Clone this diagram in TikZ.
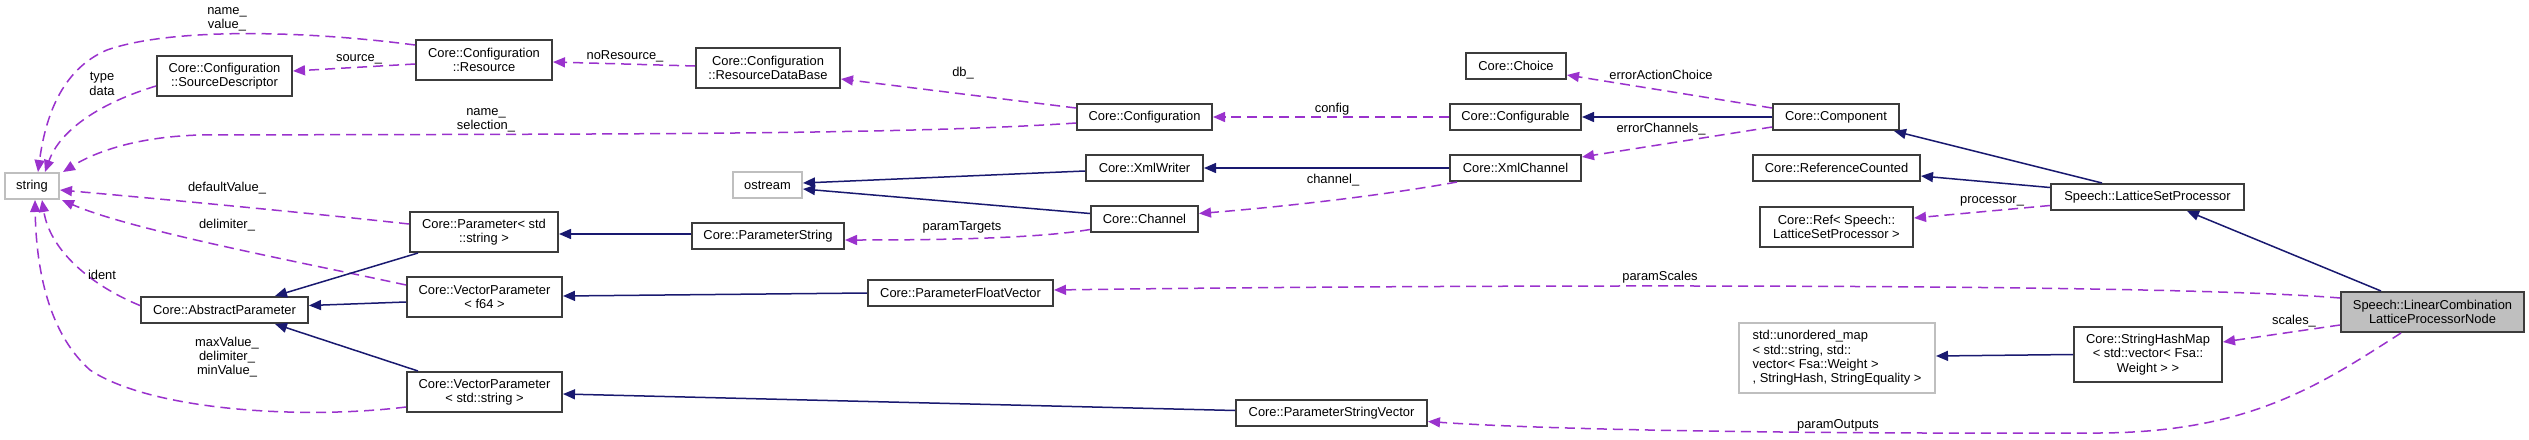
\documentclass[tikz,border=0pt]{standalone}
\usepackage{fontspec}
\setmainfont{Liberation Sans}
\usetikzlibrary{arrows.meta}
\definecolor{edgeblue}{HTML}{191970}
\definecolor{edgepurple}{HTML}{9A32CD}
\definecolor{boxborder}{HTML}{3C3C3C}
\definecolor{grayborder}{HTML}{BFBFBF}
\definecolor{focusfill}{HTML}{BFBFBF}
\begin{document}
\begin{tikzpicture}[x=1pt,y=-1pt,
  txt/.style={font=\fontsize{12.9}{14.3}\selectfont},
  cls/.style={txt, draw=boxborder, line width=2pt, fill=white, inner sep=0pt, align=center},
  ext/.style={cls, draw=grayborder},
  lbl/.style={txt, inner sep=0pt, align=center},
  uses/.style={draw=edgepurple, line width=1.5pt, dash pattern=on 10pt off 6pt, -{Triangle[length=12pt,width=10pt]}},
  inh/.style={draw=edgeblue, line width=1.5pt, -{Triangle[length=12pt,width=10pt]}}
]
\useasboundingbox[fill=white] (0,0) rectangle (2529,439);

% nodes
\node[ext, minimum width=54pt, minimum height=26pt] (string) at (32,186) {string};
\node[cls, minimum width=135pt, minimum height=40pt] (srcdesc) at (224.5,76) {Core::Configuration\\::SourceDescriptor};
\node[cls, minimum width=136pt, minimum height=40pt] (resource) at (484,60) {Core::Configuration\\::Resource};
\node[cls, minimum width=144pt, minimum height=40pt] (resdb) at (768,68) {Core::Configuration\\::ResourceDataBase};
\node[cls, minimum width=135pt, minimum height=26pt] (config) at (1144.5,117) {Core::Configuration};
\node[cls, minimum width=117pt, minimum height=26pt] (xmlwriter) at (1144.5,168) {Core::XmlWriter};
\node[ext, minimum width=69pt, minimum height=26pt] (ostream) at (767.5,185) {ostream};
\node[cls, minimum width=107pt, minimum height=26pt] (channel) at (1144.5,219) {Core::Channel};
\node[cls, minimum width=152pt, minimum height=26pt] (paramstring) at (768,236) {Core::ParameterString};
\node[cls, minimum width=185pt, minimum height=26pt] (floatvec) at (960.5,293) {Core::ParameterFloatVector};
\node[cls, minimum width=191pt, minimum height=26pt] (strvec) at (1331.5,413) {Core::ParameterStringVector};
\node[cls, minimum width=148pt, minimum height=40pt] (param) at (484,232) {Core::Parameter< std\\::string >};
\node[cls, minimum width=155pt, minimum height=40pt] (vecf64) at (484.5,297) {Core::VectorParameter\\< f64 >};
\node[cls, minimum width=167pt, minimum height=26pt] (abstract) at (224.5,310) {Core::AbstractParameter};
\node[cls, minimum width=155pt, minimum height=40pt] (vecstr) at (484.5,392) {Core::VectorParameter\\< std::string >};
\node[cls, minimum width=100pt, minimum height=26pt] (choice) at (1516,66) {Core::Choice};
\node[cls, minimum width=131pt, minimum height=26pt] (configurable) at (1515.5,117) {Core::Configurable};
\node[cls, minimum width=126pt, minimum height=26pt] (component) at (1836,117) {Core::Component};
\node[cls, minimum width=131pt, minimum height=26pt] (xmlchannel) at (1515.5,168) {Core::XmlChannel};
\node[cls, minimum width=167pt, minimum height=26pt] (refcounted) at (1836.5,168) {Core::ReferenceCounted};
\node[cls, minimum width=153pt, minimum height=40pt] (ref) at (1836.5,227) {Core::Ref< Speech::\\LatticeSetProcessor >};
\node[ext, minimum width=196pt, minimum height=70pt, align=left] (unordered) at (1837,358) {std::unordered\_map\\< std::string, std::\\vector< Fsa::Weight >\\, StringHash, StringEquality >};
\node[cls, minimum width=193pt, minimum height=26pt] (lsp) at (2147.5,197) {Speech::LatticeSetProcessor};
\node[cls, fill=focusfill, minimum width=183pt, minimum height=40pt] (lincomb) at (2432.5,312) {Speech::LinearCombination\\LatticeProcessorNode};
\node[cls, minimum width=148pt, minimum height=55pt] (shm) at (2148,354.5) {Core::StringHashMap\\< std::vector< Fsa::\\Weight > >};

% usage edges
\draw[uses] ([yshift=15pt]resource.west) .. controls (300,30) and (170,28) .. (107,50) .. controls (60,70) and (45,120) .. ([xshift=6pt]string.north);
\draw[uses] ([yshift=-10pt]srcdesc.west) .. controls (100,103) and (60,130) .. ([xshift=13pt]string.north);
\draw[uses] ([yshift=-4pt]resource.west) -- ([yshift=5pt]srcdesc.east);
\draw[uses] ([yshift=2pt]resdb.west) -- ([yshift=-2pt]resource.east);
\draw[uses] ([yshift=9pt]config.west) -- ([yshift=-11pt]resdb.east);
\draw[uses] ([yshift=-6pt]config.west) .. controls (900,135) and (600,134) .. (200,135) .. controls (130,137) and (90,155) .. ([xshift=3pt]string.north east);
\draw[uses] (configurable.west) -- (config.east);
\draw[uses] ([yshift=9pt]component.west) -- ([yshift=-9pt]choice.east);
\draw[uses] ([yshift=-10pt]component.west) -- ([yshift=11pt]xmlchannel.east);
\draw[uses] ([xshift=-58.5pt]xmlchannel.south) .. controls (1380,196) and (1280,207) .. ([yshift=5.5pt]channel.east);
\draw[uses] ([yshift=-10.5pt]channel.west) .. controls (1040,238) and (950,240) .. ([yshift=-4pt]paramstring.east);
\draw[uses] ([yshift=8pt]param.west) .. controls (300,212) and (150,198) .. ([yshift=-4pt]string.east);
\draw[uses] ([yshift=12pt]vecf64.west) .. controls (300,262) and (130,230) .. ([xshift=2pt]string.south east);
\draw[uses] ([yshift=4.5pt]abstract.west) .. controls (90,285) and (50,250) .. ([xshift=10pt]string.south);
\draw[uses] ([yshift=-15pt]vecstr.west) .. controls (300,420) and (150,410) .. (90,370) .. controls (45,330) and (36,260) .. ([xshift=3pt]string.south);
\draw[uses] ([yshift=-8.5pt]lsp.west) -- ([yshift=9pt]ref.east);
\draw[uses] ([yshift=14pt]lincomb.west) .. controls (2150,282) and (1400,285) .. ([yshift=3pt]floatvec.east);
\draw[uses] ([yshift=-13pt]lincomb.west) -- ([yshift=12.5pt]shm.east);
\draw[uses] ([xshift=-31.5pt]lincomb.south) .. controls (2320,385) and (2250,432) .. (2100,433) .. controls (1800,434) and (1550,430) .. ([yshift=-8.5pt]strvec.east);

% inheritance edges
\draw[inh] ([xshift=-66pt]param.south) -- ([xshift=50.5pt]abstract.north);
\draw[inh] ([yshift=-5pt]vecf64.west) -- ([yshift=4.5pt]abstract.east);
\draw[inh] ([xshift=-66.5pt]vecstr.north) -- ([xshift=50.5pt]abstract.south);
\draw[inh] ([yshift=2pt]paramstring.west) -- ([yshift=-2pt]param.east);
\draw[inh] (floatvec.west) -- ([yshift=1pt]vecf64.east);
\draw[inh] ([yshift=2.5pt]strvec.west) -- ([yshift=-2pt]vecstr.east);
\draw[inh] ([yshift=-3pt]xmlwriter.west) -- ([yshift=2pt]ostream.east);
\draw[inh] ([yshift=5.5pt]channel.west) -- ([yshift=-4pt]ostream.east);
\draw[inh] (xmlchannel.west) -- (xmlwriter.east);
\draw[inh] (component.west) -- (configurable.east);
\draw[inh] ([xshift=-45.5pt]lsp.north) -- ([xshift=-6pt]component.south east);
\draw[inh] ([yshift=9.5pt]lsp.west) -- ([yshift=-8pt]refcounted.east);
\draw[inh] ([xshift=-51.5pt]lincomb.north) -- ([xshift=39.5pt]lsp.south);
\draw[inh] (shm.west) -- ([yshift=2pt]unordered.east);

% edge labels
\node[lbl] (l1) at (227,19) {name\_\\value\_};
\node[lbl] (l2) at (102,84) {type\\data};
\node[lbl] (l3) at (359,59) {source\_};
\node[lbl] (l4) at (625,56) {noResource\_};
\node[lbl] (l5) at (963,73) {db\_};
\node[lbl] (l6) at (486,120) {name\_\\selection\_};
\node[lbl] (l7) at (1332,109) {config};
\node[lbl] (l8) at (1661,75) {errorActionChoice};
\node[lbl] (l9) at (1661,129) {errorChannels\_};
\node[lbl] (l10) at (1333,180) {channel\_};
\node[lbl] (l11) at (962,227) {paramTargets};
\node[lbl] (l12) at (227,188) {defaultValue\_};
\node[lbl] (l13) at (227,225) {delimiter\_};
\node[lbl] (l14) at (102,275) {ident};
\node[lbl] (l15) at (227,357) {maxValue\_\\delimiter\_\\minValue\_};
\node[lbl] (l16) at (1992,201) {processor\_};
\node[lbl] (l17) at (1660,277) {paramScales};
\node[lbl] (l18) at (2294,321) {scales\_};
\node[lbl] (l19) at (1838,425) {paramOutputs};
\end{tikzpicture}
\end{document}
